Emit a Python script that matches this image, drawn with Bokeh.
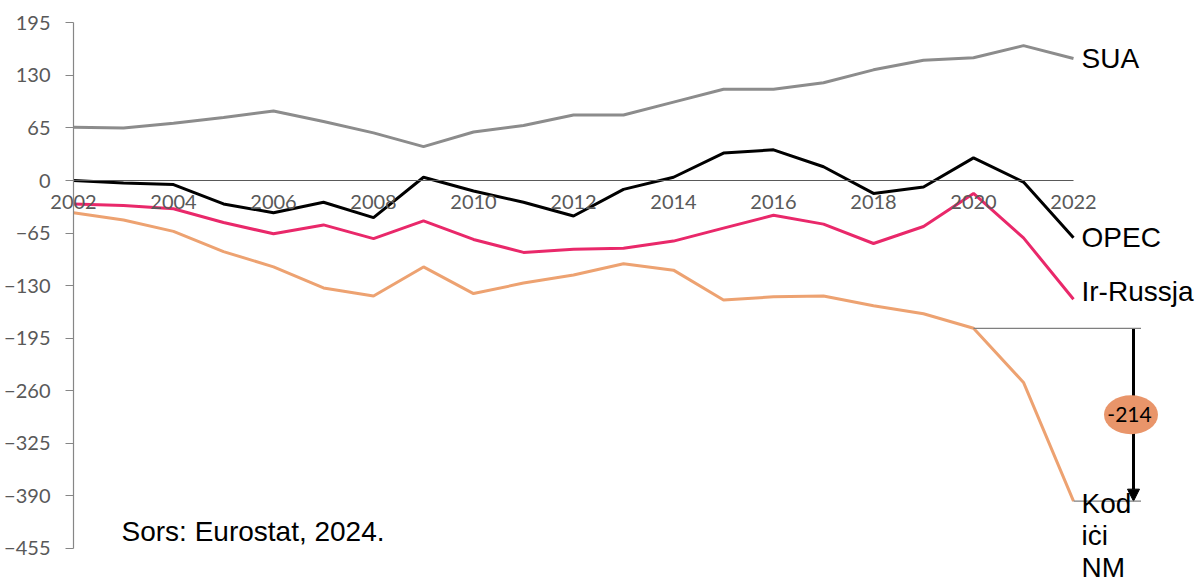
from bokeh.plotting import figure
from bokeh.models import Range1d, FixedTicker, Label, Arrow, NormalHead
from bokeh.core.properties import value
from bokeh.embed import file_html
from bokeh.resources import INLINE

# ---- data ----
years = list(range(2002, 2023))
sua = [66, 65, 71, 78, 86, 73, 59, 42, 60, 68, 81, 81, 97, 113, 113, 121, 137, 149, 152, 167, 151]
opec = [0, -3, -5, -29, -40, -27, -46, 4, -13, -27, -44, -11, 4, 34, 38, 17, -16, -8, 28, -2, -71]
ir_russja = [-29, -31, -35, -52, -66, -55, -72, -50, -73, -89, -85, -84, -75, -59, -43, -54, -78, -57, -16, -71, -147]
kodici_nm = [-40, -49, -63, -88, -107, -133, -143, -107, -140, -127, -117, -103, -111, -148, -144, -143, -155, -165, -183, -250, -397]
y_ticks = [-455, -390, -325, -260, -195, -130, -65, 0, 65, 130, 195]
x_labels = years[::2]
source_text = "Sors: Eurostat, 2024."

# ---- layout ----
W, H = 1201, 582
AXIS_X = 73
PX_YEAR = 50.0
PX_UNIT = 0.8077
ZERO_Y = 180.0
x_start = years[0] - AXIS_X / PX_YEAR
x_end = years[0] + (W - AXIS_X) / PX_YEAR
y_top = ZERO_Y / PX_UNIT
y_bot = -(H - ZERO_Y) / PX_UNIT

p = figure(width=W, height=H, output_backend="svg", toolbar_location=None,
           x_range=Range1d(x_start, x_end), y_range=Range1d(y_bot, y_top),
           min_border_left=0, min_border_right=0,
           min_border_top=0, min_border_bottom=0)
p.outline_line_color = None
p.xgrid.visible = False
p.ygrid.visible = False
p.background_fill_color = "white"
p.border_fill_color = "white"

# y axis crossing at first year
ax = p.yaxis[0]
ax.fixed_location = years[0]
ax.ticker = FixedTicker(ticks=y_ticks)
ax.bounds = (min(y_ticks), max(y_ticks))
ax.axis_line_color = "#868686"
ax.axis_line_width = 1.2
ax.major_tick_line_color = "#868686"
ax.major_tick_out = 8
ax.major_tick_in = 0
ax.minor_tick_line_color = None
ax.major_label_text_font = "Lato"
ax.major_label_text_font_size = "20px"
ax.major_label_text_color = "#595959"
ax.major_label_standoff = 15

# x axis crossing at zero
bx = p.xaxis[0]
bx.fixed_location = 0
bx.ticker = FixedTicker(ticks=x_labels)
bx.bounds = (years[0], years[-1])
bx.axis_line_color = "#595959"
bx.axis_line_width = 1.2
bx.major_tick_out = 0
bx.major_tick_in = 0
bx.minor_tick_line_color = None
bx.major_label_text_font = "Lato"
bx.major_label_text_font_size = "20px"
bx.major_label_text_color = "#595959"
bx.major_label_standoff = 14

# series
p.line(years, sua, line_color="#8C8C8C", line_width=3)
p.line(years, opec, line_color="#000000", line_width=3)
p.line(years, ir_russja, line_color="#E9286A", line_width=3)
p.line(years, kodici_nm, line_color="#EDA271", line_width=3)

# series labels
lab_font = "Liberation Sans"
def series_label(txt, yv, yoff=0):
    p.add_layout(Label(x=years[-1], y=yv, text=txt, x_offset=8, y_offset=yoff,
                       text_font=lab_font, text_font_size="28px", text_color="black",
                       text_baseline="middle"))

series_label("SUA", sua[-1])
series_label("OPEC", opec[-1])
series_label("Ir-Russja", ir_russja[-1], 8)
series_label("Kod", kodici_nm[-1], -2)
series_label("iċi", kodici_nm[-1], -34)
series_label("NM", kodici_nm[-1], -66)

# difference annotation
a, b = kodici_nm[-3], kodici_nm[-1]
ref_x_end = years[-1] + 1.35
p.line([years[-3], ref_x_end], [a, a], line_color="#7F7F7F", line_width=1.2)
p.line([years[-1], ref_x_end], [b, b], line_color="#7F7F7F", line_width=1.2)
arrow_x = years[-1] + 1.2
p.add_layout(Arrow(end=NormalHead(size=12, fill_color="black", line_color="black"),
                   x_start=arrow_x, y_start=a, x_end=arrow_x, y_end=b,
                   line_color="black", line_width=3, level="underlay"))
p.ellipse(x=[arrow_x - 0.05], y=[(a + b) / 2], width=[54], height=[39],
          width_units="screen", height_units="screen",
          fill_color="#E9956A", line_color=None)
p.text(x=[arrow_x - 0.08], y=[(a + b) / 2], text=[f"{b - a:.0f}"],
       text_font=value("Lato"), text_font_size="21px", text_color="black",
       text_align="center", text_baseline="middle")

# source
p.add_layout(Label(x=years[0], y=min(y_ticks), x_offset=48, y_offset=17, text=source_text,
                   text_font=lab_font, text_font_size="28px", text_color="black",
                   text_baseline="alphabetic"))

open("out.html", "w").write(file_html(p, INLINE))
